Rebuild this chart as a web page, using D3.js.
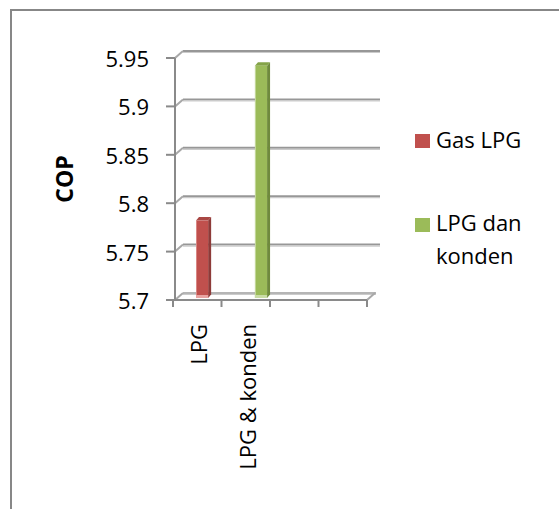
<!DOCTYPE html>
<html>
<head>
<meta charset="utf-8">
<script src="https://cdn.jsdelivr.net/npm/d3@7"></script>
<style>
  html, body { margin: 0; padding: 0; background: #fff; }
  svg text { font-family: "Open Sans", "Noto Sans", sans-serif; fill: #000; }
</style>
</head>
<body>
<svg id="chart" width="559" height="509"></svg>
<script>
// Category labels along the floor (two labelled slots, two blank ones)
const categories = ["LPG", "LPG & konden", "", ""];
// Series names shown in the legend
const seriesNames = ["Gas LPG", "LPG dan konden"];
// COP values per category for each series (null = no column)
const gasLPG = [5.78, null, null, null];
const lpgDanKonden = [null, 5.94, null, null];
// Value axis ticks
const yTicks = [5.7, 5.75, 5.8, 5.85, 5.9, 5.95];

const seriesValues = [gasLPG, lpgDanKonden];
const palette = [
  { front: "#c0504d", side: "#8e3b39", top: "#a94744", edge: "#d98784", foot: "#e8a3a1" },
  { front: "#9bbb59", side: "#6f8a3d", top: "#84a348", edge: "#c4d89c", foot: "#c9dca5" }
];

const svg = d3.select("#chart");
const fontSize = 22;

// Outer chart frame
svg.append("path")
  .attr("d", "M11,509 L11,10 L559,10")
  .attr("fill", "none").attr("stroke", "#878787").attr("stroke-width", 2);

// Oblique 3D projection: front plane plus a depth offset for the back wall
const depth = { dx: 8, dy: -7 };
const barDepth = { dx: 2.4, dy: -2 };   // plane the column fronts sit on
const colDepth = { dx: 3, dy: -3.5 };   // thickness of each column

const x = d3.scaleBand()
  .domain(d3.range(categories.length))
  .range([173, 367]);

const xSeries = d3.scalePoint()
  .domain(d3.range(seriesNames.length))
  .range([x.bandwidth() * 0.55, x.bandwidth() * 0.765]);
const colWidth = x.bandwidth() * 0.25;

const y = d3.scaleLinear()
  .domain([5.7, 5.95])
  .range([300, 58]);

const x0 = x.range()[0] + 2, x1 = x.range()[1];

// Back-wall gridlines with their connectors on the left side wall
const grid = svg.append("g");
yTicks.forEach(t => {
  const yf = y(t), yb = y(t) + depth.dy;
  const isFloor = t === yTicks[0];
  const xEnd = isFloor ? x1 + depth.dx + 1 : x1 + depth.dx + 5;
  grid.append("line")
    .attr("x1", x0 + depth.dx).attr("x2", xEnd)
    .attr("y1", yb).attr("y2", yb)
    .attr("stroke", isFloor ? "#b5b5b5" : "#979797").attr("stroke-width", 2);
  grid.append("line")
    .attr("x1", x0 + depth.dx).attr("x2", xEnd)
    .attr("y1", yb + 1.5).attr("y2", yb + 1.5)
    .attr("stroke", "#cbcbcb").attr("stroke-width", 1.2);
  grid.append("line")
    .attr("x1", x0).attr("y1", yf)
    .attr("x2", x0 + depth.dx).attr("y2", yb)
    .attr("stroke", "#a8a8a8").attr("stroke-width", 2);
});

// Right floor edge
grid.append("line")
  .attr("x1", x1).attr("y1", y(yTicks[0]))
  .attr("x2", x1 + depth.dx).attr("y2", y(yTicks[0]) + depth.dy)
  .attr("stroke", "#a8a8a8").attr("stroke-width", 2);

// Columns
const bars = svg.append("g");
seriesValues.forEach((vals, s) => {
  vals.forEach((v, i) => {
    if (v == null) return;
    const c = palette[s];
    const left = x(i) + xSeries(s) - colWidth / 2 + barDepth.dx;
    const right = left + colWidth;
    const top = y(v) + barDepth.dy;
    const bottom = y(yTicks[0]) + barDepth.dy;
    // side face
    bars.append("path")
      .attr("d", `M${right},${top} L${right + colDepth.dx},${top + colDepth.dy} L${right + colDepth.dx},${bottom + colDepth.dy} L${right},${bottom} Z`)
      .attr("fill", c.side);
    // top face
    bars.append("path")
      .attr("d", `M${left},${top} L${left + colDepth.dx},${top + colDepth.dy} L${right + colDepth.dx},${top + colDepth.dy} L${right},${top} Z`)
      .attr("fill", c.top);
    // front face
    bars.append("rect")
      .attr("x", left).attr("y", top)
      .attr("width", colWidth).attr("height", bottom - top)
      .attr("fill", c.front);
    bars.append("line")
      .attr("x1", left + 0.5).attr("x2", left + 0.5)
      .attr("y1", top).attr("y2", bottom)
      .attr("stroke", c.edge).attr("stroke-width", 1);
    bars.append("rect")
      .attr("x", left).attr("y", bottom - 3)
      .attr("width", colWidth).attr("height", 3)
      .attr("fill", c.foot);
  });
});

// Front value axis line and tick marks
const axisG = svg.append("g");
axisG.append("line")
  .attr("x1", x0).attr("x2", x0)
  .attr("y1", y(yTicks[yTicks.length - 1])).attr("y2", y(yTicks[0]))
  .attr("stroke", "#8a8a8a").attr("stroke-width", 2);
yTicks.forEach(t => {
  axisG.append("line")
    .attr("x1", x0 - 9).attr("x2", x0)
    .attr("y1", y(t)).attr("y2", y(t))
    .attr("stroke", "#8a8a8a").attr("stroke-width", 2);
  axisG.append("text")
    .attr("x", 149).attr("y", y(t) + 9)
    .attr("text-anchor", "end")
    .attr("font-size", fontSize)
    .text(d3.format("")(t));
});

// Front floor line and category ticks
axisG.append("line")
  .attr("x1", x0).attr("x2", x1)
  .attr("y1", y(yTicks[0])).attr("y2", y(yTicks[0]))
  .attr("stroke", "#8a8a8a").attr("stroke-width", 2);
const catTicks = d3.range(categories.length + 1).map(i =>
  i < categories.length ? x(i) : x.range()[1]);
catTicks.forEach(cx => {
  axisG.append("line")
    .attr("x1", cx).attr("x2", cx)
    .attr("y1", y(yTicks[0])).attr("y2", y(yTicks[0]) + 7)
    .attr("stroke", "#8a8a8a").attr("stroke-width", 2);
});

// Category labels, rotated
categories.forEach((name, i) => {
  if (!name) return;
  const cx = x(i) + x.bandwidth() / 2 + 2;
  axisG.append("text")
    .attr("transform", `translate(${cx},324) rotate(-90)`)
    .attr("text-anchor", "end")
    .attr("dy", "0.36em")
    .attr("font-size", fontSize)
    .text(name);
});

// Axis title
svg.append("text")
  .attr("transform", "translate(65,179) rotate(-90)")
  .attr("text-anchor", "middle")
  .attr("dy", "0.36em")
  .attr("font-size", 23)
  .attr("font-weight", "bold")
  .text("COP");

// Legend
const legendRows = [
  { lines: ["Gas LPG"], sq: 134, base: 148 },
  { lines: ["LPG dan", "konden"], sq: 218, base: 231 }
];
const legend = svg.append("g");
legendRows.forEach((r, s) => {
  legend.append("rect")
    .attr("x", 415).attr("y", r.sq)
    .attr("width", 15).attr("height", 14)
    .attr("fill", palette[s].front);
  const t = legend.append("text")
    .attr("x", 436).attr("y", r.base)
    .attr("font-size", fontSize);
  r.lines.forEach((ln, k) => {
    t.append("tspan").attr("x", 436).attr("dy", k === 0 ? 0 : 33).text(ln);
  });
});
</script>
</body>
</html>
